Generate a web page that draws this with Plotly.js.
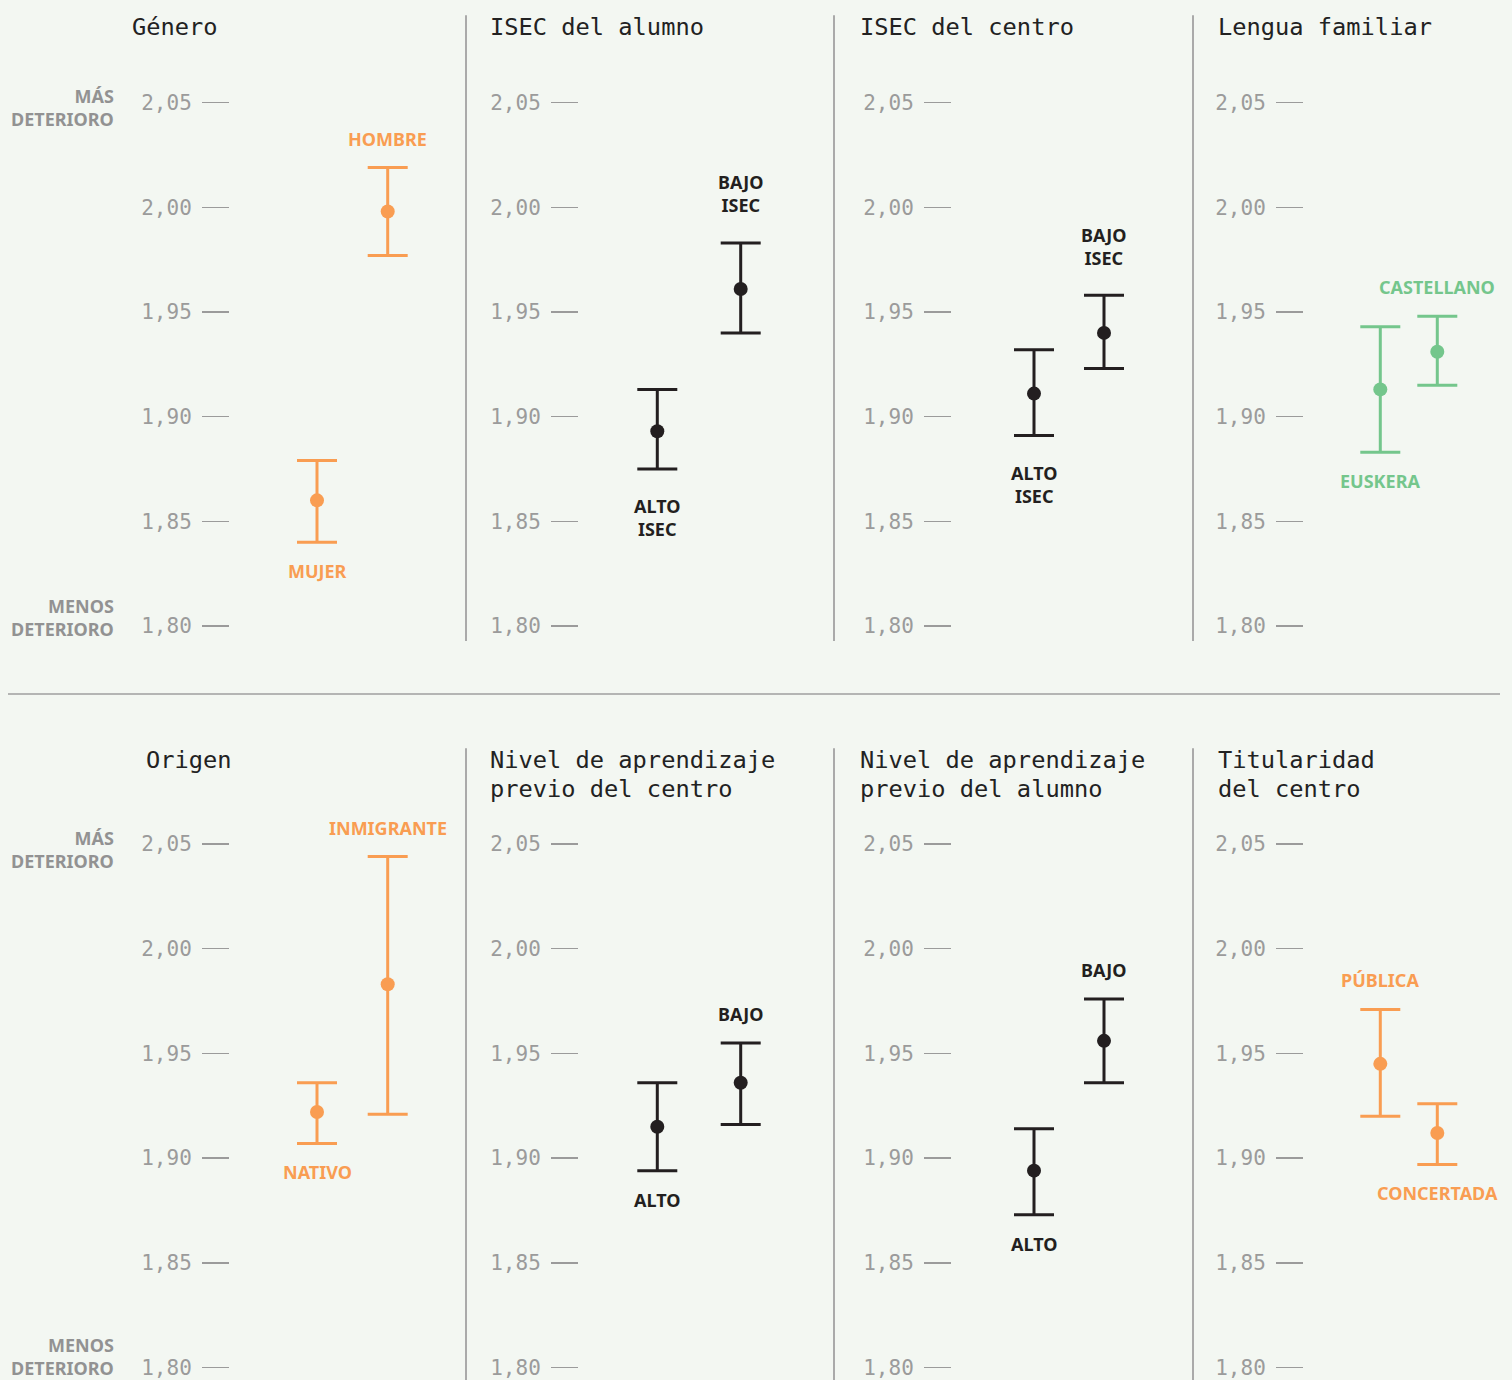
<!DOCTYPE html>
<html>
<head>
<meta charset="utf-8">
<script src="https://cdn.plot.ly/plotly-3.0.1.min.js"></script>
<style>
  html, body { margin: 0; padding: 0; background: #f3f7f2; }
  #chart { width: 1512px; height: 1380px; }
</style>
</head>
<body>
<div id="chart"></div>
<script>
// ---------------- DATA ----------------
const panelTitles = [
  "Género",
  "ISEC del alumno",
  "ISEC del centro",
  "Lengua familiar",
  "Origen",
  "Nivel de aprendizaje<br>previo del centro",
  "Nivel de aprendizaje<br>previo del alumno",
  "Titularidad<br>del centro"
];
const groupLabels = [
  ["MUJER", "HOMBRE"],
  ["ALTO<br>ISEC", "BAJO<br>ISEC"],
  ["ALTO<br>ISEC", "BAJO<br>ISEC"],
  ["EUSKERA", "CASTELLANO"],
  ["NATIVO", "INMIGRANTE"],
  ["ALTO", "BAJO"],
  ["ALTO", "BAJO"],
  ["PÚBLICA", "CONCERTADA"]
];
const meanValues = [
  [1.860, 1.998],
  [1.893, 1.961],
  [1.911, 1.940],
  [1.913, 1.931],
  [1.922, 1.983],
  [1.915, 1.936],
  [1.894, 1.956],
  [1.945, 1.912]
];
const lowerValues = [
  [1.840, 1.977],
  [1.875, 1.940],
  [1.891, 1.923],
  [1.883, 1.915],
  [1.907, 1.921],
  [1.894, 1.916],
  [1.873, 1.936],
  [1.920, 1.897]
];
const upperValues = [
  [1.879, 2.019],
  [1.913, 1.983],
  [1.932, 1.958],
  [1.943, 1.948],
  [1.936, 2.044],
  [1.936, 1.955],
  [1.914, 1.976],
  [1.971, 1.926]
];
const yTickValues = [1.80, 1.85, 1.90, 1.95, 2.00, 2.05];
const yTickText = ["1,80", "1,85", "1,90", "1,95", "2,00", "2,05"];
const scaleTopLabel = "MÁS<br>DETERIORO";
const scaleBottomLabel = "MENOS<br>DETERIORO";

// ---------------- STYLE / LAYOUT ----------------
const ORANGE = "#f99d52", DARK = "#231f20", GREEN = "#74c68c";
const panelColors = [ORANGE, DARK, DARK, GREEN, ORANGE, DARK, DARK, ORANGE];
const LABEL_FONT = "Noto Sans, Roboto, sans-serif";
const MONO_FONT = "DejaVu Sans Mono, monospace";
const W = 1512, H = 1380;
const colAxisPx = [230, 579, 952, 1304];
const colRightPx = [466, 834, 1193, 1512];
const colPointPx = [[317, 387.7], [657.3, 740.7], [1034, 1104], [1380.3, 1437.3]];
const rowTopPx = [102.7, 844];
const rowBottomPx = [625.9, 1367.5];
const titleLeftPx = [131, 489, 859, 1217, 145, 489, 859, 1217];
const titleBaselinePx = [35.5, 768.5];
const lowScaleShift = [8.5, 11];
const GRAY_TICK = "#9b9b9b";
const GRAY_LABEL = "#929292";

const traces = [];
const annotations = [];
const shapes = [];
const layout = {
  width: W, height: H,
  margin: { l: 0, r: 0, t: 0, b: 0, pad: 0 },
  paper_bgcolor: "#f3f7f2",
  plot_bgcolor: "rgba(0,0,0,0)",
  showlegend: false,
  font: { family: LABEL_FONT }
};

for (let i = 0; i < 8; i++) {
  const n = i + 1;
  const row = Math.floor(i / 4), col = i % 4;
  const xid = n === 1 ? "x" : "x" + n;
  const yid = n === 1 ? "y" : "y" + n;
  const color = panelColors[i];
  const mean = meanValues[i], lo = lowerValues[i], hi = upperValues[i];

  traces.push({
    type: "scatter", mode: "markers",
    x: [0, 1], y: mean,
    xaxis: xid, yaxis: yid,
    marker: { size: 14, color: color },
    error_y: {
      type: "data", symmetric: false,
      array: hi.map((v, k) => v - mean[k]),
      arrayminus: lo.map((v, k) => mean[k] - v),
      color: color, thickness: 3, width: 20
    },
    cliponaxis: false, hoverinfo: "skip", showlegend: false
  });

  const L = colAxisPx[col], R = colRightPx[col], pp = colPointPx[col];
  const s = pp[1] - pp[0];
  layout["xaxis" + (n === 1 ? "" : n)] = {
    domain: [L / W, R / W],
    range: [-(pp[0] - L) / s, 1 + (R - pp[1]) / s],
    visible: false, anchor: yid, fixedrange: true
  };
  layout["yaxis" + (n === 1 ? "" : n)] = {
    domain: [1 - rowBottomPx[row] / H, 1 - rowTopPx[row] / H],
    range: [1.80, 2.05],
    anchor: xid,
    tickmode: "array", tickvals: yTickValues, ticktext: yTickText,
    ticks: "outside", ticklen: 27, tickwidth: 1.5, tickcolor: GRAY_TICK,
    ticklabelstandoff: 6,
    showline: false, showgrid: false, zeroline: false,
    tickfont: { family: MONO_FONT, size: 21, color: GRAY_TICK },
    fixedrange: true
  };

  // group labels
  for (let j = 0; j < 2; j++) {
    const higher = mean[j] >= mean[1 - j];
    const lines = groupLabels[i][j].split("<br>").length;
    const off = 29 + 20 * (lines - 1);
    annotations.push({
      xref: xid, yref: yid, x: j, y: higher ? hi[j] : lo[j],
      text: "<b>" + groupLabels[i][j] + "</b>",
      showarrow: false, xanchor: "center", yanchor: "middle",
      yshift: higher ? off : -off,
      font: { family: LABEL_FONT, size: 18, color: color }
    });
  }

  // panel title
  panelTitles[i].split("<br>").forEach((line, k) => {
    const centerPx = titleBaselinePx[row] + k * 28.5 - 8.3;
    annotations.push({
      xref: "paper", yref: "paper",
      x: (titleLeftPx[i] - 1) / W, y: 1 - centerPx / H,
      xanchor: "left", yanchor: "middle",
      text: line, showarrow: false,
      font: { family: MONO_FONT, size: 23.7, color: "#222222" }
    });
  });

  // scale labels on first column
  if (col === 0) {
    annotations.push({
      xref: "paper", yref: yid, x: 116 / W, y: yTickValues[yTickValues.length - 1],
      xanchor: "right", yanchor: "middle", yshift: -5, align: "right",
      text: "<b>" + scaleTopLabel + "</b>", showarrow: false,
      font: { family: LABEL_FONT, size: 18, color: GRAY_LABEL }
    });
    annotations.push({
      xref: "paper", yref: yid, x: 116 / W, y: yTickValues[0],
      xanchor: "right", yanchor: "middle", yshift: lowScaleShift[row], align: "right",
      text: "<b>" + scaleBottomLabel + "</b>", showarrow: false,
      font: { family: LABEL_FONT, size: 18, color: GRAY_LABEL }
    });
  }
}

// separators
[466, 834, 1193].forEach(xp => {
  shapes.push({ type: "line", xref: "paper", yref: "paper",
    x0: xp / W, x1: xp / W, y0: 1 - 15.3 / H, y1: 1 - 641 / H,
    line: { color: "#aaaaaa", width: 2 } });
  shapes.push({ type: "line", xref: "paper", yref: "paper",
    x0: xp / W, x1: xp / W, y0: 1 - 748.3 / H, y1: 0,
    line: { color: "#aaaaaa", width: 2 } });
});
shapes.push({ type: "line", xref: "paper", yref: "paper",
  x0: 8 / W, x1: 1500 / W, y0: 1 - 694 / H, y1: 1 - 694 / H,
  line: { color: "#9f9f9f", width: 1.5 } });

layout.annotations = annotations;
layout.shapes = shapes;

Plotly.newPlot("chart", traces, layout, { staticPlot: true, displayModeBar: false });
</script>
</body>
</html>
